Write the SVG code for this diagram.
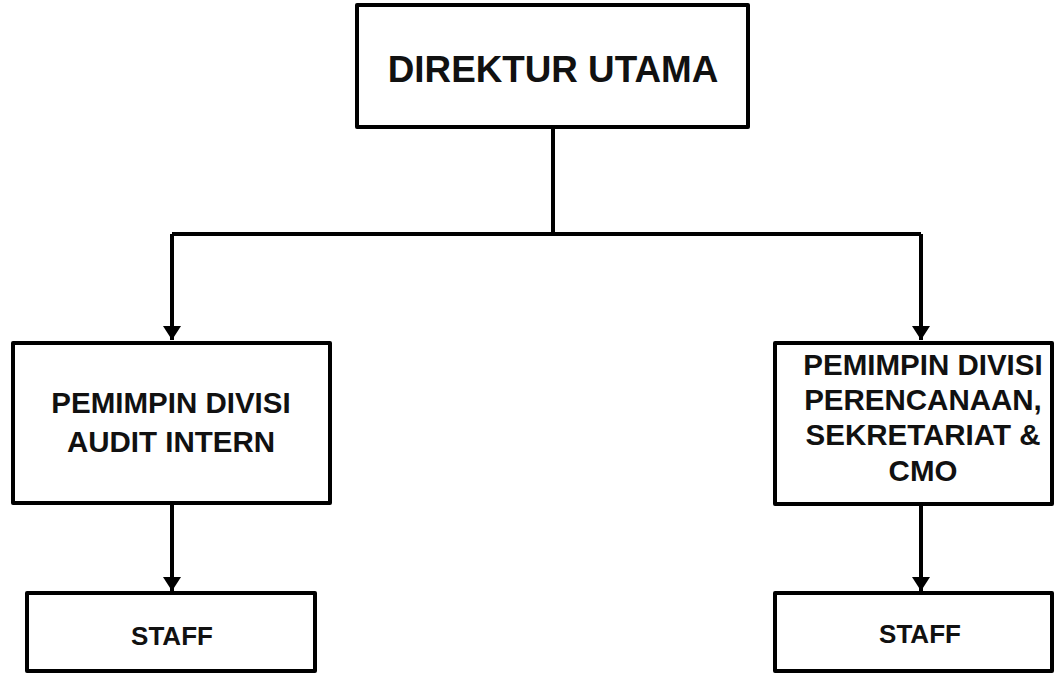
<svg xmlns="http://www.w3.org/2000/svg" width="1056" height="674" viewBox="0 0 1056 674">
<style>
.box{fill:#fff;stroke:#000;stroke-width:4;stroke-linejoin:round}
.t{font-family:"Liberation Sans",Arial,sans-serif;font-weight:bold;fill:#111;text-anchor:middle}
.c{fill:none;stroke:#000;stroke-width:4}
</style>
<defs>
<marker id="ah" markerUnits="userSpaceOnUse" markerWidth="14" markerHeight="18" refX="14" refY="9" orient="auto" viewBox="0 0 14 18">
<path d="M0,0 L14,9 L0,18 Z" fill="#000"/>
</marker>
</defs>
<rect width="1056" height="674" fill="#fff"/>
<g id="connectors">
<path class="c" d="M553,127 V234 M172,234 H921"/>
<path class="c" d="M172,234 V340" marker-end="url(#ah)"/>
<path class="c" d="M921,234 V340" marker-end="url(#ah)"/>
<path class="c" d="M172,503 V591" marker-end="url(#ah)"/>
<path class="c" d="M921,504 V591" marker-end="url(#ah)"/>
</g>
<g id="direktur">
<rect class="box" x="357" y="5" width="391" height="122"/>
<text class="t" x="553" y="82" font-size="36.8">DIREKTUR UTAMA</text>
</g>
<g id="audit">
<rect class="box" x="13" y="343" width="317" height="160"/>
<text class="t" x="171" y="413" font-size="29.5">PEMIMPIN DIVISI</text>
<text class="t" x="171" y="452" font-size="29.5">AUDIT INTERN</text>
</g>
<g id="perencanaan">
<rect class="box" x="775" y="343" width="277" height="161"/>
<text class="t" x="923" y="375" font-size="29.5">PEMIMPIN DIVISI</text>
<text class="t" x="923" y="410" font-size="29.5">PERENCANAAN,</text>
<text class="t" x="923" y="445" font-size="29.5">SEKRETARIAT &amp;</text>
<text class="t" x="923" y="481" font-size="29.5">CMO</text>
</g>
<g id="staff1">
<rect class="box" x="27" y="593" width="288" height="78"/>
<text class="t" x="172" y="645" font-size="26">STAFF</text>
</g>
<g id="staff2">
<rect class="box" x="775" y="593" width="277" height="78"/>
<text class="t" x="920" y="643" font-size="26">STAFF</text>
</g>
</svg>
